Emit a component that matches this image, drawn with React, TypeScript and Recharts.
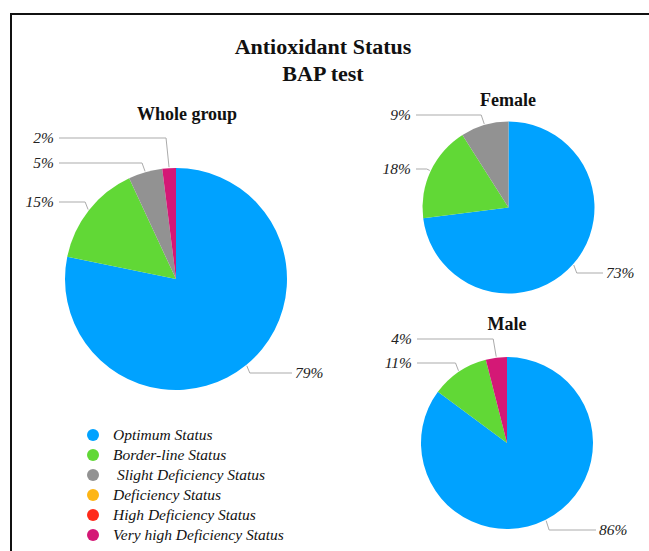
import React from "react";
import { PieChart, Pie, Cell } from "recharts";

// status categories shared by all three pies and the legend
const categories = [
  "Optimum Status",
  "Border-line Status",
  "Slight Deficiency Status",
  "Deficiency Status",
  "High Deficiency Status",
  "Very high Deficiency Status",
];
const colors = ["#00A2FF", "#61D836", "#929292", "#FDB515", "#FF2A1A", "#D41876"];

// percentages per group, same order as categories
const wholeGroup = [79, 15, 5, 0, 0, 2];
const female = [73, 18, 9, 0, 0, 0];
const male = [86, 11, 0, 0, 0, 4];

const FONT = "Liberation Serif, serif";
const RAD = Math.PI / 180;

type LabelSpot = Record<number, [number, number]>;

const toData = (values: number[]) =>
  values
    .map((value, i) => ({ name: categories[i], idx: i, value }))
    .filter((d) => d.value > 0);

// label offsets from the pie centre, picked to match the callout placement
const makeLabel = (spots: LabelSpot) => (props: any) => {
  const { cx, cy, outerRadius, midAngle, payload, value } = props;
  const spot = spots[payload.idx];
  if (!spot) return null;
  const ex = cx + (outerRadius + 1) * Math.cos(-midAngle * RAD);
  const ey = cy + (outerRadius + 1) * Math.sin(-midAngle * RAD);
  const lx = cx + spot[0];
  const ly = cy + spot[1];
  const right = spot[0] > 0;
  const sign = right ? 1 : -1;
  const bx = ex + sign * 3;
  const endX = right ? lx - 3 : lx + 5;
  return (
    <g key={`lbl-${payload.idx}`}>
      <polyline
        points={`${ex},${ey} ${bx},${ly} ${endX},${ly}`}
        fill="none"
        stroke="#ababab"
        strokeWidth={1}
      />
      <text
        x={lx}
        y={ly}
        dy="0.35em"
        textAnchor={right ? "start" : "end"}
        style={{ fontFamily: FONT }}
        fontStyle="italic"
        fontSize={15.5}
        fill="#222"
      >
        {value}%
      </text>
    </g>
  );
};

const pies = [
  {
    key: "whole",
    values: wholeGroup,
    cx: 176,
    cy: 279,
    r: 111,
    spots: { 0: [119, 94], 1: [-122, -77], 2: [-122, -116], 5: [-122, -141] } as LabelSpot,
  },
  {
    key: "female",
    values: female,
    cx: 508.5,
    cy: 207.5,
    r: 86,
    spots: { 0: [97.5, 65.5], 1: [-97.5, -38.5], 2: [-97.5, -92.5] } as LabelSpot,
  },
  {
    key: "male",
    values: male,
    cx: 507,
    cy: 443,
    r: 86,
    spots: { 0: [92, 87], 1: [-95, -80], 5: [-95, -104] } as LabelSpot,
  },
];

const titleStyle: React.CSSProperties = {
  position: "absolute",
  fontFamily: FONT,
  fontWeight: "bold",
  color: "#111",
  transform: "translate(-50%, -50%)",
  whiteSpace: "nowrap",
};

export default function App() {
  return (
    <div
      style={{
        position: "absolute",
        left: 0,
        top: 0,
        width: 649,
        height: 551,
        overflow: "hidden",
        background: "#fff",
        fontFamily: FONT,
      }}
    >
      <div
        style={{
          position: "absolute",
          left: 10,
          top: 13,
          width: 700,
          height: 600,
          border: "2px solid #111",
        }}
      />
      <div style={{ ...titleStyle, left: 323, top: 47, fontSize: 22 }}>Antioxidant Status</div>
      <div style={{ ...titleStyle, left: 323, top: 74, fontSize: 22 }}>BAP test</div>
      <div style={{ ...titleStyle, left: 187, top: 114, fontSize: 18 }}>Whole group</div>
      <div style={{ ...titleStyle, left: 508, top: 100, fontSize: 18 }}>Female</div>
      <div style={{ ...titleStyle, left: 507, top: 324, fontSize: 18 }}>Male</div>

      <div style={{ position: "absolute", left: 0, top: 0 }}>
        <PieChart width={649} height={551} margin={{ top: 0, right: 0, bottom: 0, left: 0 }}>
          {pies.map((p) => (
            <Pie
              key={p.key}
              data={toData(p.values)}
              dataKey="value"
              nameKey="name"
              cx={p.cx}
              cy={p.cy}
              outerRadius={p.r}
              startAngle={90}
              endAngle={-270}
              stroke="none"
              labelLine={false}
              label={makeLabel(p.spots)}
              isAnimationActive={false}
            >
              {toData(p.values).map((d) => (
                <Cell key={d.name} fill={colors[d.idx]} />
              ))}
            </Pie>
          ))}
        </PieChart>
      </div>

      <div style={{ position: "absolute", left: 87, top: 425 }}>
        {categories.map((c, i) => (
          <div key={c} style={{ display: "flex", alignItems: "center", height: 20 }}>
            <span
              style={{
                width: 12,
                height: 12,
                borderRadius: "50%",
                background: colors[i],
                display: "inline-block",
                marginRight: 14,
              }}
            />
            <span
              style={{
                fontFamily: FONT,
                fontStyle: "italic",
                fontSize: 15.5,
                color: "#111",
                paddingLeft: i === 2 ? 4 : 0,
              }}
            >
              {c}
            </span>
          </div>
        ))}
      </div>
    </div>
  );
}
